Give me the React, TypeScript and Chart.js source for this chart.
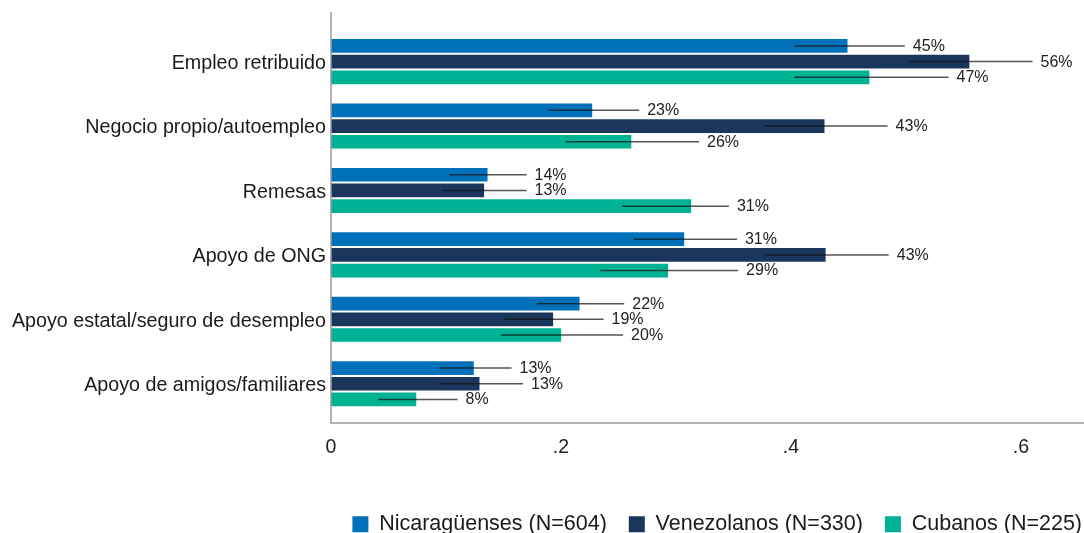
import React, { useEffect, useRef } from 'react';
import { Chart, registerables } from 'chart.js';

Chart.register(...registerables);

// ---- Data ----
const categories = [
  'Empleo retribuido',
  'Negocio propio/autoempleo',
  'Remesas',
  'Apoyo de ONG',
  'Apoyo estatal/seguro de desempleo',
  'Apoyo de amigos/familiares',
];

const seriesNames = ['Nicaragüenses (N=604)', 'Venezolanos (N=330)', 'Cubanos (N=225)'];

const nicValues = [0.450, 0.228, 0.137, 0.308, 0.217, 0.125];
const nicLow = [0.403, 0.189, 0.103, 0.263, 0.179, 0.094];
const nicHigh = [0.499, 0.268, 0.170, 0.353, 0.255, 0.157];
const nicLabels = ['45%', '23%', '14%', '31%', '22%', '13%'];

const venValues = [0.556, 0.430, 0.134, 0.431, 0.194, 0.130];
const venLow = [0.502, 0.376, 0.097, 0.377, 0.151, 0.094];
const venHigh = [0.610, 0.484, 0.170, 0.485, 0.237, 0.167];
const venLabels = ['56%', '43%', '13%', '43%', '19%', '13%'];

const cubValues = [0.469, 0.262, 0.314, 0.294, 0.201, 0.075];
const cubLow = [0.403, 0.204, 0.253, 0.234, 0.148, 0.041];
const cubHigh = [0.537, 0.320, 0.346, 0.354, 0.254, 0.110];
const cubLabels = ['47%', '26%', '31%', '29%', '20%', '8%'];

const xTickValues = [0, 0.2, 0.4, 0.6];
const xMax = 0.6548;

const colors = ['#0070BA', '#1B365D', '#00B294'];
const FONT = "'Liberation Sans', Arial, sans-serif";

const lows = [nicLow, venLow, cubLow];
const highs = [nicHigh, venHigh, cubHigh];
const valueLabels = [nicLabels, venLabels, cubLabels];

const ciPlugin = {
  id: 'ciAndLabels',
  afterDatasetsDraw(chart: any) {
    const { ctx, scales } = chart;
    const x = scales.x;
    ctx.save();
    chart.data.datasets.forEach((_ds: any, di: number) => {
      const meta = chart.getDatasetMeta(di);
      meta.data.forEach((bar: any, i: number) => {
        const lo = x.getPixelForValue(lows[di][i]);
        const hi = x.getPixelForValue(highs[di][i]);
        ctx.beginPath();
        ctx.strokeStyle = 'rgba(20,20,20,0.72)';
        ctx.lineWidth = 1.5;
        ctx.moveTo(lo, bar.y);
        ctx.lineTo(hi, bar.y);
        ctx.stroke();
        ctx.fillStyle = '#222';
        ctx.font = `16px ${FONT}`;
        ctx.textAlign = 'left';
        ctx.textBaseline = 'middle';
        ctx.fillText(valueLabels[di][i], hi + 8, bar.y + 0.5);
      });
    });
    ctx.restore();
  },
  afterDraw(chart: any) {
    const { ctx, chartArea } = chart;
    ctx.save();
    ctx.strokeStyle = '#9a9a9a';
    ctx.lineWidth = 1.5;
    ctx.beginPath();
    ctx.moveTo(chartArea.left, chartArea.top - 17.4);
    ctx.lineTo(chartArea.left, chartArea.bottom + 7);
    ctx.lineTo(chartArea.right, chartArea.bottom + 7);
    ctx.stroke();
    ctx.restore();
  },
};

export default function App() {
  const ref = useRef<HTMLCanvasElement>(null);

  useEffect(() => {
    document.body.style.margin = '0';
    const mk = (label: string, data: number[], color: string) => ({
      label,
      data,
      backgroundColor: color,
      borderColor: 'rgba(255,255,255,0.35)',
      borderWidth: 1,
      categoryPercentage: 0.73,
      barPercentage: 1,
    });
    const chart = new Chart(ref.current!, {
      type: 'bar',
      data: {
        labels: categories,
        datasets: [
          mk(seriesNames[0], nicValues, colors[0]),
          mk(seriesNames[1], venValues, colors[1]),
          mk(seriesNames[2], cubValues, colors[2]),
        ],
      },
      options: {
        indexAxis: 'y',
        responsive: false,
        animation: false,
        layout: { padding: { top: 29.4, right: -20, bottom: 0, left: 0 } },
        scales: {
          x: {
            type: 'linear',
            min: 0,
            max: xMax,
            grid: { display: false, drawTicks: false },
            border: { display: false },
            afterBuildTicks: (s: any) => {
              s.ticks = xTickValues.map((v) => ({ value: v }));
            },
            afterFit: (s: any) => {
              s.height = 75.55;
            },
            ticks: {
              padding: 20,
              color: '#222',
              font: { family: FONT, size: 19.5 },
              maxRotation: 0,
              callback: (v: any) => (Number(v) === 0 ? '0' : Number(v).toFixed(1).replace(/^0/, '')),
            },
          },
          y: {
            type: 'category',
            grid: { display: false, drawTicks: false },
            border: { display: false },
            afterFit: (s: any) => {
              s.width = 331;
            },
            ticks: {
              padding: 5,
              labelOffset: 2,
              color: '#1a1a1a',
              font: { family: FONT, size: 19.7 },
            },
          },
        },
        plugins: {
          tooltip: { enabled: false },
          legend: {
            position: 'bottom',
            align: 'end',
            maxHeight: 41.5,
            labels: {
              boxWidth: 16,
              boxHeight: 16,
              padding: 22,
              color: '#1a1a1a',
              font: { family: FONT, size: 21.5 },
              generateLabels: (c: any) =>
                Chart.defaults.plugins.legend.labels.generateLabels(c).map((l: any) => ({
                  ...l,
                  lineWidth: 0,
                  strokeStyle: l.fillStyle,
                })),
            },
          },
        },
      } as any,
      plugins: [ciPlugin],
    });
    return () => chart.destroy();
  }, []);

  return (
    <div style={{ width: 1084, height: 533 }}>
      <canvas ref={ref} width={1084} height={533} style={{ display: 'block' }} />
    </div>
  );
}
